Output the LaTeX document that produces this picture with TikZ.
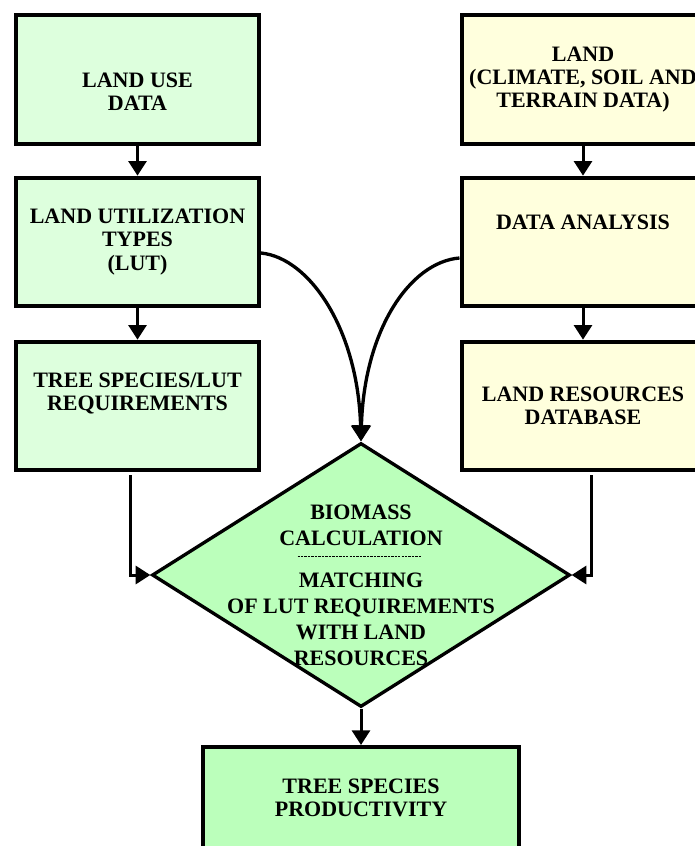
\documentclass[tikz,border=0pt]{standalone}
\usepackage{fontspec}
\setmainfont{Liberation Serif}
\usetikzlibrary{arrows.meta,shapes.geometric}
\definecolor{lugreen}{RGB}{221,255,221}
\definecolor{landyellow}{RGB}{255,255,221}
\definecolor{biogreen}{RGB}{187,255,187}
\newcommand{\dashrow}{\hbox to 96pt{\leaders\hbox to 2.6pt{\hss\rule{1.8pt}{1.1pt}\hss}\hfill}}
\tikzset{
	blk/.style={draw,line width=3pt,inner sep=0pt,minimum width=182.25pt,minimum height=96.5pt,align=center,font=\fontsize{16.5}{17.5}\selectfont\bfseries},
	link/.style={line width=2.25pt,-{Triangle[length=11pt,width=13.5pt]}},
	curvelink/.style={line width=2.5pt,-{Triangle[length=12pt,width=14pt]}}
}
\begin{document}
\begin{tikzpicture}[x=.75pt,y=-.75pt]
	\useasboundingbox(0,0)rectangle(695,846);
	\node[blk,fill=lugreen](use)at(137.5,79.5){\mbox{}\\[11.75pt]LAND USE\\DATA};
	\node[blk,fill=lugreen](lut)at(137.5,242){LAND UTILIZATION\\TYPES\\(LUT)};
	\node[blk,fill=lugreen](req)at(137.5,406){TREE SPECIES/LUT\\REQUIREMENTS\\[3.5pt]\mbox{}};
	\node[blk,fill=landyellow](land)at(583,79.5){LAND\\(CLIMATE, SOIL AND\\TERRAIN DATA)};
	\node[blk,fill=landyellow](ana)at(583,242){DATA ANALYSIS\\[11.5pt]\mbox{}};
	\node[blk,fill=landyellow](res)at(583,406){LAND RESOURCES\\DATABASE};
	\node[diamond,draw,line width=2.5pt,fill=biogreen,inner sep=0pt,minimum width=313.5pt,minimum height=198pt](calc)at(361,575){};
	\node[align=center,inner sep=0pt,font=\fontsize{16.5}{19.5}\selectfont\bfseries](calctext)at(361,585){BIOMASS\\CALCULATION\\[-10.5pt]\dashrow\\[3pt]MATCHING\\OF LUT REQUIREMENTS\\WITH LAND\\RESOURCES};
	\node[blk,fill=biogreen,minimum width=237pt,minimum height=76.5pt](prod)at(361,798){TREE SPECIES\\PRODUCTIVITY};
	\coordinate(lfoot)at(130,475);
	\coordinate(rfoot)at(591,475);
	\draw[link](use)--(lut);
	\draw[link](lut)--(req);
	\draw[link](land)--(ana);
	\draw[link](ana)--(res);
	\draw[link](calc)--(prod);
	\draw[link](lfoot)|-(calc.west);
	\draw[link](rfoot)|-(calc.east);
	\draw[curvelink]([yshift=-8.25pt]lut.east)..controls(310,258)and(358,330)..(calc.north);
	\draw[curvelink]([yshift=-12pt]ana.west)..controls(410,262)and(364,330)..(calc.north);
\end{tikzpicture}
\end{document}
